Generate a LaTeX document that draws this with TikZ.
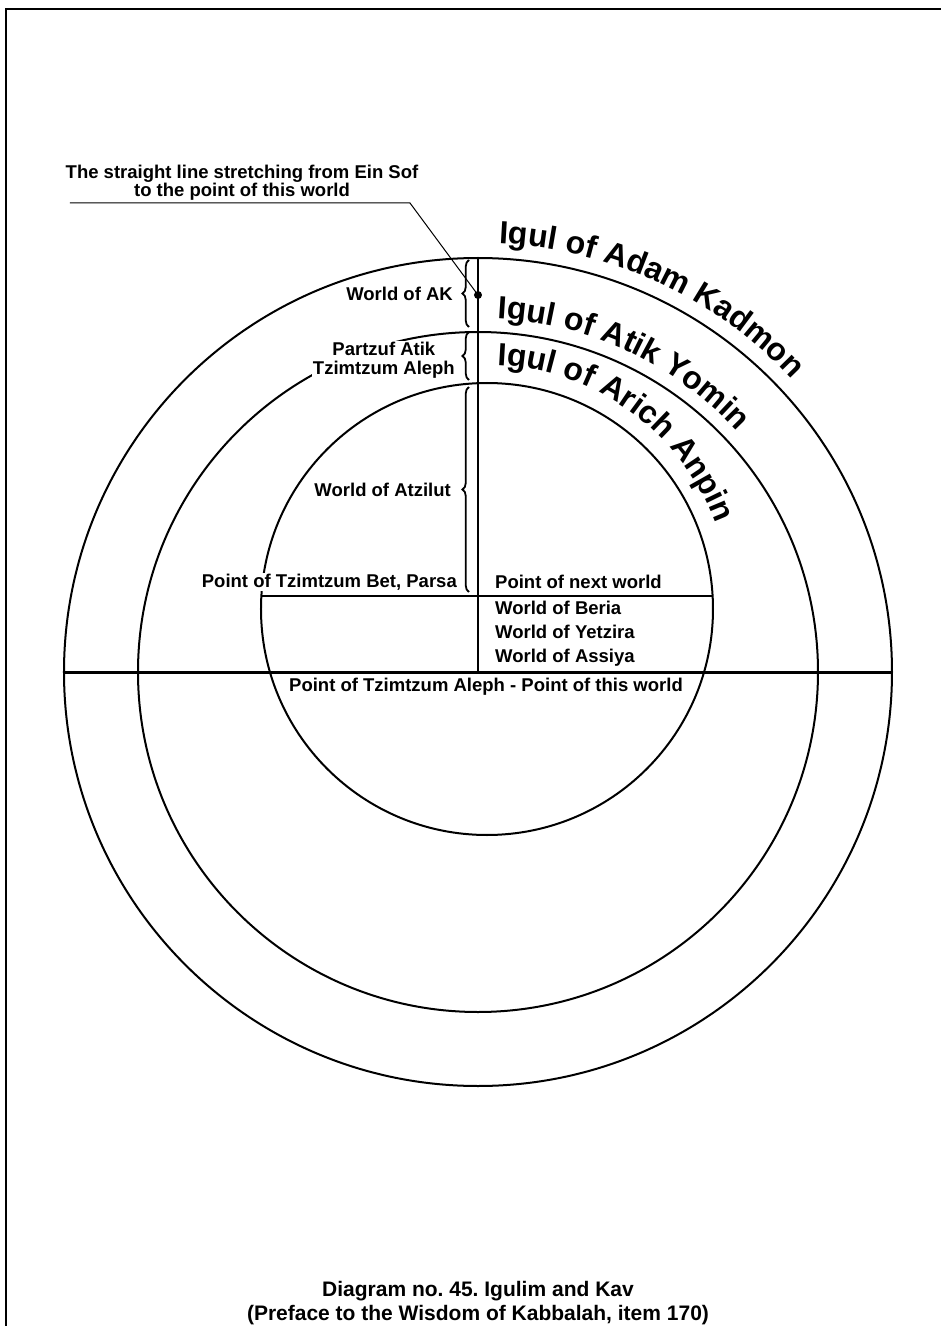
\documentclass[tikz,border=0pt]{standalone}
\usepackage{fontspec}
\setmainfont{Liberation Sans}
\usetikzlibrary{decorations.pathreplacing,decorations.text}

\begin{document}
\frenchspacing
\begin{tikzpicture}[x=1pt, y=1pt,
	lbl/.style={font=\bfseries\fontsize{18.5}{18.5}\selectfont, inner sep=1pt},
	ring/.style={line width=2pt},
	curly/.style={decorate, decoration={brace, amplitude=6.5pt}, line width=1.8pt},
	igul/.style={decorate, decoration={text along path, text align=left,
		text={|\bfseries\fontsize{32}{32}\selectfont|#1}}}]
	\useasboundingbox (-478,-654) rectangle (463,672);
	% page frame
	\draw[line width=1.5pt] (-472,-660) -- (-472,663) -- (470,663);
	% igulim
	\coordinate (O) at (0,0);
	\coordinate (Oin) at (9,63);
	\draw[ring] (O) circle[radius=414];
	\draw[ring] (O) circle[radius=340];
	\draw[ring] (Oin) circle[radius=226];
	% kav, line of this world, parsa
	\coordinate (kavtop) at (0,414);
	\coordinate (worldW) at (-414,0);
	\coordinate (worldE) at (414,0);
	\coordinate (parsaW) at (-216.6,76);
	\coordinate (parsaE) at (234.6,76);
	\draw[line width=2.4pt] (kavtop) -- (O);
	\draw[line width=3pt] (worldW) -- (worldE);
	\draw[ring] (parsaW) -- (parsaE);
	% leader to the kav
	\coordinate (dot) at (0,377);
	\coordinate (bend) at (-68,469);
	\coordinate (leadend) at (-408,469);
	\draw[line width=1pt] (dot) -- (bend) -- (leadend);
	\fill (dot) circle[radius=4];
	\node[lbl, align=center, anchor=south] (kavtxt) at (-236,470) {The straight line stretching from Ein Sof\\to the point of this world};
	% braces along the kav
	\draw[curly] (-9,345) -- (-9,412);
	\draw[curly] (-9,292) -- (-9,340);
	\draw[curly] (-9,80) -- (-9,285);
	\node[lbl, left] (ak) at (-24,378) {World of AK};
	\node[lbl, left, align=center, fill=white] (atik) at (-22,312) {Partzuf Atik\\Tzimtzum Aleph};
	\node[lbl, left] (atzilut) at (-26,182) {World of Atzilut};
	\node[lbl, left, fill=white] (parsa) at (-20,90) {Point of Tzimtzum Bet, Parsa};
	\node[lbl, right] (next) at (16,90) {Point of next world};
	\node[lbl, right] (beria) at (16,64) {World of Beria};
	\node[lbl, right] (yetzira) at (16,40) {World of Yetzira};
	\node[lbl, right] (assiya) at (16,14) {World of Assiya};
	\node[lbl] (aleph) at (8,-15) {Point of Tzimtzum Aleph - Point of this world};
	% names of the igulim
	\path[igul={Igul of Adam Kadmon}] (87.2:429) arc[start angle=87.2, end angle=0, radius=429];
	\path[igul={Igul of Atik Yomin}] (86.9:354) arc[start angle=86.9, end angle=0, radius=354];
	\path[igul={Igul of Arich Anpin}, shift={(Oin)}] (87.6:244) arc[start angle=87.6, end angle=-20, radius=244];
	% caption
	\node[font=\bfseries\fontsize{21}{24}\selectfont, align=center] (caption) at (0,-631) {Diagram no. 45. Igulim and Kav\\(Preface to the Wisdom of Kabbalah, item 170)};
\end{tikzpicture}
\end{document}
